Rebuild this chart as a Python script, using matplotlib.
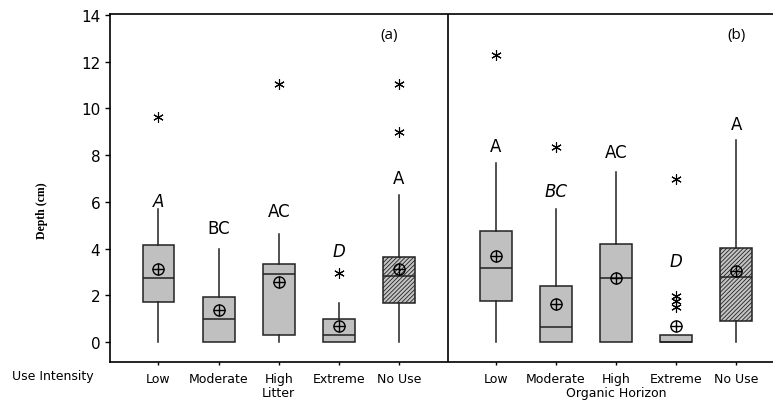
import numpy as np
import matplotlib.pyplot as plt
from matplotlib import transforms

# categories
cats = ["Low", "Moderate", "High", "Extreme", "No Use"]

# panel (a) Litter: box statistics
litter_whislo = [0.0, 0.0, 0.0, 0.0, 0.0]
litter_q1 = [1.71, 0.0, 0.31, 0.0, 1.66]
litter_med = [2.76, 0.98, 2.92, 0.31, 2.82]
litter_q3 = [4.15, 1.93, 3.33, 0.98, 3.64]
litter_whishi = [5.68, 4.0, 4.61, 1.65, 6.29]
litter_mean = [3.12, 1.37, 2.55, 0.70, 3.12]
litter_fliers = [[9.65], [], [11.05], [2.94], [11.05, 9.0]]
litter_letters = ["A", "BC", "AC", "D", "A"]
litter_letter_y = [6.03, 4.9, 5.6, 3.9, 7.03]
litter_italic = [True, False, False, True, False]

# panel (b) Organic Horizon
org_whislo = [0.0, 0.0, 0.0, 0.0, 0.0]
org_q1 = [1.76, 0.0, 0.0, 0.0, 0.88]
org_med = [3.19, 0.65, 2.76, 0.0, 2.80]
org_q3 = [4.75, 2.40, 4.21, 0.31, 4.01]
org_whishi = [7.67, 5.68, 7.28, 0.31, 8.66]
org_mean = [3.68, 1.62, 2.76, 0.70, 3.04]
org_fliers = [[12.3], [8.35], [], [6.99, 1.98, 1.75, 1.5], []]
org_letters = ["A", "BC", "AC", "D", "A"]
org_letter_y = [8.38, 6.46, 8.12, 3.47, 9.33]
org_italic = [False, True, False, True, False]

yticks = [0, 2, 4, 6, 8, 10, 12, 14]

pos_a = np.arange(1, 6)
pos_b = pos_a + 5.615
divider = 5.817

plt.rcParams["hatch.color"] = "#6e6e6e"
plt.rcParams["hatch.linewidth"] = 0.6


def makeStats(lo, q1, med, q3, hi, fl):
    stats = []
    for i in range(len(lo)):
        stats.append(dict(whislo=lo[i], q1=q1[i], med=med[i], q3=q3[i],
                          whishi=hi[i], fliers=fl[i]))
    return stats


fig = plt.figure(figsize=(7.73, 4.02), dpi=100)
ax = fig.add_axes([110 / 773, 39 / 402, 663 / 773, 348 / 402])

box_kw = dict(widths=0.53, patch_artist=True, showcaps=False, showfliers=True,
              boxprops=dict(facecolor="#c0c0c0", edgecolor="#222222", linewidth=1.1),
              medianprops=dict(color="#222222", linewidth=1.1),
              whiskerprops=dict(color="#222222", linewidth=1.1),
              flierprops=dict(marker=(6, 2, 0), markersize=7.5, markeredgecolor="black",
                              markerfacecolor="black", markeredgewidth=0.8, linestyle="none"))

for pos, st, means, letters, ly, ital in [
        (pos_a, makeStats(litter_whislo, litter_q1, litter_med, litter_q3, litter_whishi, litter_fliers),
         litter_mean, litter_letters, litter_letter_y, litter_italic),
        (pos_b, makeStats(org_whislo, org_q1, org_med, org_q3, org_whishi, org_fliers),
         org_mean, org_letters, org_letter_y, org_italic)]:
    bp = ax.bxp(st, positions=pos, **box_kw)
    # the No Use box is hatched
    bp["boxes"][4].set_hatch("////////")
    bp["boxes"][4].set_facecolor("#c4c4c4")
    # means: circle with cross
    ax.plot(pos, means, "o", mfc="none", mec="black", ms=8, mew=1.0, zorder=5)
    ax.plot(pos, means, "+", color="black", ms=8, mew=1.0, zorder=5)
    for i in range(5):
        ax.text(pos[i], ly[i], letters[i], ha="center", va="center", fontsize=12,
                style="italic" if ital[i] else "normal", family="DejaVu Sans")

ax.axvline(divider, color="black", linewidth=1.2)

ax.set_xlim(0.193, 11.225)
ax.set_ylim(-0.854, 14.04)
ax.set_yticks(yticks)
ax.set_xticks(np.concatenate([pos_a, pos_b]))
ax.set_xticklabels(cats + cats)
ax.tick_params(axis="y", labelsize=11, length=3.6, width=1, pad=3.5, direction="out")
ax.tick_params(axis="x", labelsize=9, length=2.4, width=1, pad=4.5, direction="out")
for s in ["left", "bottom", "top"]:
    ax.spines[s].set_linewidth(1.2)
ax.spines["right"].set_visible(False)

fig.text(42 / 773, (402 - 211) / 402, "Depth (cm)", family="Liberation Serif", fontweight="bold",
         fontsize=8.5, rotation=90, ha="center", va="center")

ax.text(4.84, 13.15, "(a)", family="Open Sans", fontsize=11, ha="center", va="center")
ax.text(pos_b[4], 13.15, "(b)", family="Open Sans", fontsize=11, ha="center", va="center")

fig.text(12 / 773, (402 - 377) / 402, "Use Intensity", fontsize=9, va="center", ha="left")
tr = transforms.blended_transform_factory(ax.transData, fig.transFigure)
ax.text(pos_a[2], (402 - 394) / 402, "Litter", fontsize=9, ha="center", va="center", transform=tr)
ax.text(pos_b[2], (402 - 394) / 402, "Organic Horizon", fontsize=9, ha="center", va="center", transform=tr)

fig.savefig("out.png", dpi=100)
